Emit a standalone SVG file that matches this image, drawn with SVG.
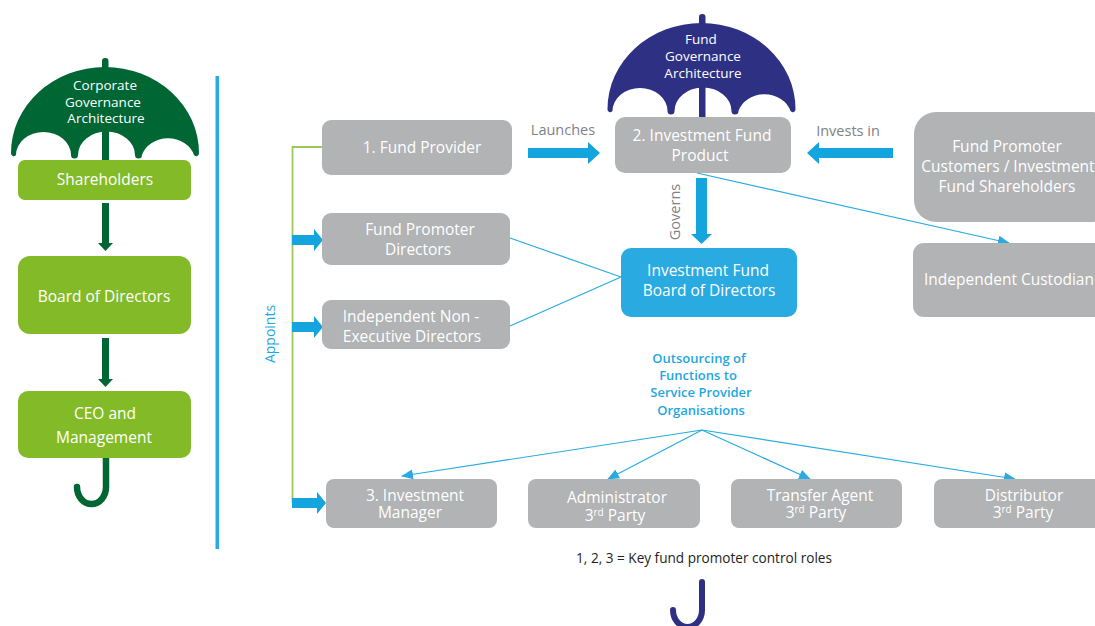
<svg xmlns="http://www.w3.org/2000/svg" width="1095" height="626" viewBox="0 0 1095 626">
<style>
text{font-family:"Open Sans","Noto Sans","Liberation Sans",sans-serif;text-anchor:middle}
.w{fill:#fff;font-size:15.500px}
.u{fill:#fff;font-size:13.500px}
.g{fill:#b1b3b4}
.lg{fill:#83bb28}
.dg{fill:#006633}
.nv{fill:#2e3084}
.bl{fill:#14a4de}
.lab{fill:#808285;font-size:14.500px}
.cy{fill:#1ea7e1;font-size:13px;font-weight:600}
.thin{fill:none;stroke:#29abe2;stroke-width:1.2}
.s{font-size:10px}
</style>
<defs>
<marker id="ah" markerWidth="12" markerHeight="10" refX="11" refY="5" orient="auto" markerUnits="userSpaceOnUse"><path d="M0,0L12,5L0,10Z" fill="#29abe2"/></marker>
<path id="canopy" d="M0,88A94,86 0 0 1 188,88A2.800,2.800 0 0 1 183,90A27,23 0 0 0 131,90A3.500,3.500 0 0 1 124,90A28.500,23.500 0 0 0 67,90A3.500,3.500 0 0 1 60,90A27.500,23 0 0 0 5,90A2.800,2.800 0 0 1 0,88Z"/>
</defs>
<rect x="215.500" y="76" width="3.500" height="473" fill="#29abe2"/>
<g id="connectors">
<path d="M322,147H292.500V503" fill="none" stroke="#9cc95c" stroke-width="1.800"/>
<path class="bl" d="M292,235H314V229L323,240L314,251V245H292Z"/>
<path class="bl" d="M292,322H314V316L323,327L314,338V332H292Z"/>
<path class="bl" d="M292,498H317V492L326,503L317,514V508H292Z"/>
<path class="bl" d="M528,148H588V142L600,153L588,164V158H528Z"/>
<path class="bl" d="M893,148H819V142L807,153L819,164V158H893Z"/>
<path class="bl" d="M696,178H707V234H712L701.500,244L691,234H696Z"/>
<path class="thin" d="M510,238L621,277M510,326L621,277"/>
<path class="thin" d="M697,173L1009,243" marker-end="url(#ah)"/>
<path class="thin" d="M702,430L402,476" marker-end="url(#ah)"/>
<path class="thin" d="M702,430L608,479" marker-end="url(#ah)"/>
<path class="thin" d="M702,430L810,479" marker-end="url(#ah)"/>
<path class="thin" d="M702,430L1015,479" marker-end="url(#ah)"/>
<path class="dg" d="M102,203H109V243H113L105.500,251L98,243H102Z"/>
<path class="dg" d="M102,338H109V379H113L105.500,387L98,379H102Z"/>
</g>
<g id="corporate-umbrella">
<rect class="dg" x="102" y="58" width="6.500" height="20" rx="3"/>
<rect class="dg" x="102" y="120" width="7" height="42"/>
<use href="#canopy" x="11" y="65" class="dg"/>
<path d="M106,450V487A14.500,17 0 0 1 77,487" fill="none" stroke="#006633" stroke-width="6.500" stroke-linecap="round"/>
<text class="u" x="105" y="90">Corporate</text>
<text class="u" x="103" y="107">Governance</text>
<text class="u" x="106" y="123">Architecture</text>
</g>
<g id="shareholders"><rect class="lg" x="18" y="160" width="173" height="40" rx="7"/><text class="w" x="105" y="185">Shareholders</text></g>
<g id="board"><rect class="lg" x="18" y="256" width="173" height="78" rx="12"/><text class="w" x="104" y="302">Board of Directors</text></g>
<g id="ceo"><rect class="lg" x="18" y="391" width="173" height="67" rx="10"/><text class="w" x="105" y="419">CEO and</text><text class="w" x="104" y="443">Management</text></g>
<g id="fund-umbrella">
<rect class="nv" x="699" y="14" width="6.500" height="20" rx="3"/>
<rect class="nv" x="699" y="80" width="6.500" height="38"/>
<use href="#canopy" x="607.500" y="21" class="nv"/>
<text class="u" x="701" y="44">Fund</text>
<text class="u" x="703" y="61">Governance</text>
<text class="u" x="703" y="78">Architecture</text>
</g>
<path id="fund-handle" d="M702,582V610A14.500,17 0 0 1 673,610" fill="none" stroke="#2e3084" stroke-width="6" stroke-linecap="round"/>
<g id="fund-provider"><rect class="g" x="322" y="120" width="190" height="55" rx="9"/><text class="w" x="422" y="153">1. Fund Provider</text></g>
<g id="fund-product"><rect class="g" x="615" y="117" width="176" height="56" rx="10"/><text class="w" x="702" y="141">2. Investment Fund</text><text class="w" x="700" y="161">Product</text></g>
<g id="customers"><rect class="g" x="914" y="112" width="200" height="110" rx="22"/><text class="w" x="1007" y="152">Fund Promoter</text><text class="w" x="1008" y="172">Customers / Investment</text><text class="w" x="1007" y="192">Fund Shareholders</text></g>
<g id="promoter-directors"><rect class="g" x="322" y="213" width="188" height="52" rx="9"/><text class="w" x="420" y="235">Fund Promoter</text><text class="w" x="418" y="255">Directors</text></g>
<g id="independent-directors"><rect class="g" x="322" y="300" width="188" height="49" rx="9"/><text class="w" x="411" y="322">Independent Non -</text><text class="w" x="412" y="342">Executive Directors</text></g>
<g id="fund-board"><rect x="621" y="248" width="176" height="69" rx="10" fill="#29abe2"/><text class="w" x="708" y="276">Investment Fund</text><text class="w" x="709" y="296">Board of Directors</text></g>
<g id="custodian"><rect class="g" x="913" y="243" width="200" height="74" rx="11"/><text class="w" x="1009" y="285">Independent Custodian</text></g>
<g id="investment-manager"><rect class="g" x="326" y="479" width="171" height="49" rx="8"/><text class="w" x="415" y="501">3. Investment</text><text class="w" x="410" y="518">Manager</text></g>
<g id="administrator"><rect class="g" x="528" y="479" width="172" height="49" rx="8"/><text class="w" x="617" y="503">Administrator</text><text class="w" x="615" y="521">3<tspan class="s" dy="-5">rd</tspan><tspan dy="5"> Party</tspan></text></g>
<g id="transfer-agent"><rect class="g" x="731" y="479" width="171" height="49" rx="8"/><text class="w" x="820" y="501">Transfer Agent</text><text class="w" x="816" y="518">3<tspan class="s" dy="-5">rd</tspan><tspan dy="5"> Party</tspan></text></g>
<g id="distributor"><rect class="g" x="934" y="479" width="180" height="49" rx="8"/><text class="w" x="1024" y="501">Distributor</text><text class="w" x="1023" y="518">3<tspan class="s" dy="-5">rd</tspan><tspan dy="5"> Party</tspan></text></g>
<g id="labels">
<text class="lab" x="563" y="135">Launches</text>
<text class="lab" x="848" y="136">Invests in</text>
<text class="lab" transform="translate(680,212) rotate(-90)">Governs</text>
<text transform="translate(275,334) rotate(-90)" fill="#1ea7e1" font-size="14">Appoints</text>
<text class="cy" x="699" y="363">Outsourcing of</text>
<text class="cy" x="698" y="380">Functions to</text>
<text class="cy" x="701" y="397">Service Provider</text>
<text class="cy" x="701" y="415">Organisations</text>
<text x="704" y="563" fill="#231f20" font-size="13.600">1, 2, 3 = Key fund promoter control roles</text>
</g>
</svg>
